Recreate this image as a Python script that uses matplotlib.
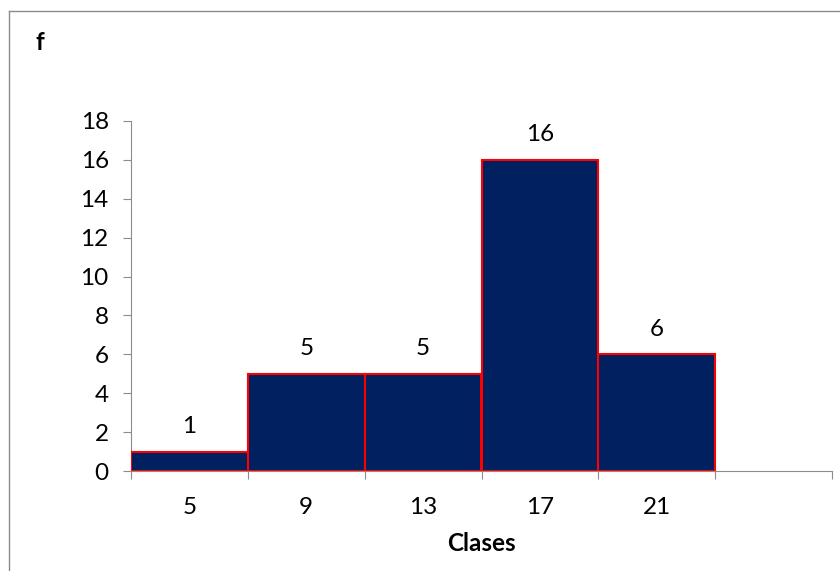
import matplotlib.pyplot as plt
from matplotlib.lines import Line2D

# histogram data
classes = ["5", "9", "13", "17", "21"]
freq = [1, 5, 5, 16, 6]
n_slots = 6  # excel leaves one empty category at the end

BAR_COLOR = "#002060"
EDGE_COLOR = "#ff0000"
AXIS_COLOR = "#8c8c8c"
FS = 17.5

plt.rcParams["font.family"] = ["Lato", "DejaVu Sans"]

fig = plt.figure(figsize=(8.4, 5.71), dpi=100)
ax = fig.add_axes([131 / 840, 1 - 471 / 571, (832 - 131) / 840, (471 - 121) / 571])

pos = list(range(len(freq)))
bars = ax.bar(pos, freq, width=1.0, align="edge", color=BAR_COLOR,
              edgecolor=EDGE_COLOR, linewidth=1.5, zorder=3)

for b, v in zip(bars, freq):
    ax.annotate(str(v), (b.get_x() + b.get_width() / 2, v), xytext=(0, 18),
                textcoords="offset points", ha="center", va="center", fontsize=FS)

ax.set_xlim(0, n_slots)
ax.set_ylim(0, 18)
ax.set_yticks(range(0, 19, 2))
ax.tick_params(axis="y", labelsize=FS, length=6, color=AXIS_COLOR, pad=10)

ax.set_xticks(range(0, n_slots + 1))
ax.set_xticklabels([])
ax.set_xticks([p + 0.5 for p in pos], minor=True)
ax.set_xticklabels(classes, minor=True)
ax.tick_params(axis="x", which="major", length=6, color=AXIS_COLOR)
ax.tick_params(axis="x", which="minor", length=0, labelsize=FS, pad=19)

for s in ["top", "right"]:
    ax.spines[s].set_visible(False)
for s in ["left", "bottom"]:
    ax.spines[s].set_color(AXIS_COLOR)

ax.set_xlabel("Clases", fontsize=FS, fontweight="bold", labelpad=10)
fig.text(35 / 840, 1 - 42 / 571, "f", fontsize=FS, fontweight="bold", va="center")

# chart area border (only top and left show in the picture)
bx, by = 8.5 / 840, 1 - 10.5 / 571
fig.add_artist(Line2D([bx, 1], [by, by], transform=fig.transFigure, color=AXIS_COLOR, lw=1))
fig.add_artist(Line2D([bx, bx], [0, by], transform=fig.transFigure, color=AXIS_COLOR, lw=1))

fig.savefig("out.png", dpi=100)
